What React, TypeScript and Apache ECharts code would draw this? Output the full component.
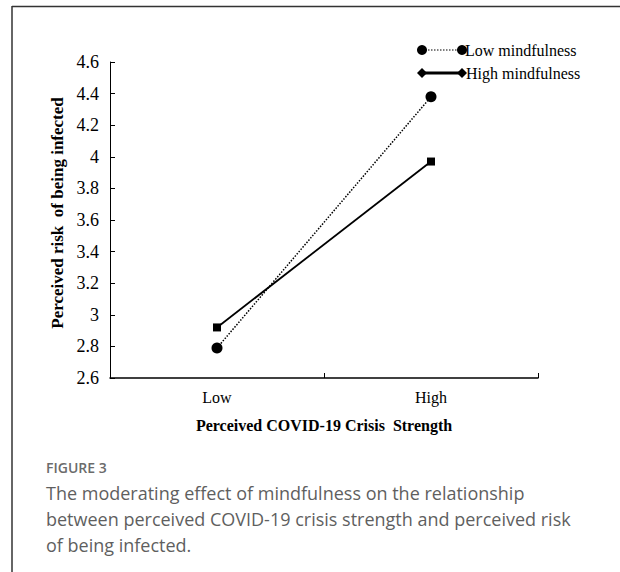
import React, { useEffect, useRef } from "react";
import * as echarts from "echarts";

const categories = ["Low", "High"];
const lowMindfulness = [2.79, 4.38];
const highMindfulness = [2.92, 3.97];
const yMin = 2.6;
const yMax = 4.6;
const yStep = 0.2;
const legendNames = ["Low mindfulness", "High mindfulness"];
const captionTitle = "FIGURE 3";
const captionLines = [
  "The moderating effect of mindfulness on the relationship",
  "between perceived COVID-19 crisis strength and perceived risk",
  "of being infected.",
];

const SERIF = "'Liberation Serif', 'Times New Roman', serif";
const SANS = "'Open Sans', 'Noto Sans', sans-serif";

export default function App() {
  const ref = useRef<HTMLDivElement>(null);
  useEffect(() => {
    if (!ref.current) return;
    const chart = echarts.init(ref.current, null, { renderer: "svg" });
    const legendY = [50, 73];
    chart.setOption({
      animation: false,
      backgroundColor: "#ffffff",
      grid: { left: 110, right: 82, top: 62, bottom: 194 },
      xAxis: {
        type: "category",
        data: categories,
        boundaryGap: true,
        name: "Perceived COVID-19 Crisis  Strength",
        nameLocation: "middle",
        nameGap: 39,
        nameTextStyle: { fontFamily: SERIF, fontWeight: "bold", fontSize: 16, color: "#000" },
        axisLine: { lineStyle: { color: "#000", width: 1.5 } },
        axisTick: { show: true, inside: true, length: 5, lineStyle: { color: "#000" } },
        axisLabel: { fontFamily: SERIF, fontSize: 16, color: "#000", margin: 11 },
        splitLine: { show: false },
      },
      yAxis: {
        type: "value",
        min: yMin,
        max: yMax,
        interval: yStep,
        name: "Perceived risk  of being infected",
        nameLocation: "middle",
        nameGap: 39,
        nameRotate: 90,
        nameTextStyle: {
          fontFamily: SERIF,
          fontWeight: "bold",
          fontSize: 17,
          color: "#000",
          padding: [0, 0, 0, 14],
        },
        axisLine: { show: true, lineStyle: { color: "#000", width: 1 } },
        axisTick: { show: true, inside: true, length: 5, lineStyle: { color: "#000" } },
        axisLabel: {
          fontFamily: SERIF,
          fontSize: 18,
          color: "#000",
          margin: 11,
          formatter: (v: number) => String(+v.toFixed(1)),
        },
        splitLine: { show: false },
      },
      series: [
        {
          name: legendNames[0],
          type: "line",
          data: lowMindfulness,
          symbol: "circle",
          symbolSize: 11,
          itemStyle: { color: "#000" },
          lineStyle: { color: "#000", width: 1.5, type: [1.5, 1.5] },
        },
        {
          name: legendNames[1],
          type: "line",
          data: highMindfulness,
          symbol: "rect",
          symbolSize: 8,
          itemStyle: { color: "#000" },
          lineStyle: { color: "#000", width: 1.8, type: "solid" },
        },
      ],
      graphic: [
        // frame
        { type: "line", shape: { x1: 12, y1: 6.5, x2: 620, y2: 6.5 }, style: { stroke: "#333", lineWidth: 1.5 } },
        { type: "line", shape: { x1: 12, y1: 6, x2: 12, y2: 572 }, style: { stroke: "#333", lineWidth: 1.5 } },
        // legend row 1
        { type: "line", shape: { x1: 422, y1: legendY[0], x2: 462, y2: legendY[0] }, style: { stroke: "#000", lineWidth: 1.2, lineDash: [1.5, 1.5] } },
        { type: "circle", shape: { cx: 422, cy: legendY[0], r: 5 }, style: { fill: "#000" } },
        { type: "circle", shape: { cx: 462, cy: legendY[0], r: 5 }, style: { fill: "#000" } },
        { type: "text", x: 465, y: legendY[0], style: { text: legendNames[0], font: `16px ${SERIF}`, fill: "#000", verticalAlign: "middle" } },
        // legend row 2
        { type: "line", shape: { x1: 422, y1: legendY[1], x2: 462, y2: legendY[1] }, style: { stroke: "#000", lineWidth: 3 } },
        { type: "polygon", shape: { points: [[422, legendY[1] - 5], [427, legendY[1]], [422, legendY[1] + 5], [417, legendY[1]]] }, style: { fill: "#000" } },
        { type: "polygon", shape: { points: [[462, legendY[1] - 5], [467, legendY[1]], [462, legendY[1] + 5], [457, legendY[1]]] }, style: { fill: "#000" } },
        { type: "text", x: 466, y: legendY[1], style: { text: legendNames[1], font: `16px ${SERIF}`, fill: "#000", verticalAlign: "middle" } },
        // caption
        { type: "text", x: 46, y: 467, style: { text: captionTitle, font: `600 14px ${SANS}`, fill: "#6b6b6b", verticalAlign: "middle" } },
        ...captionLines.map((t, i) => ({
          type: "text",
          x: 46,
          y: 493 + i * 26,
          style: { text: t, font: `18px ${SANS}`, fill: "#5f5f5f", verticalAlign: "middle" },
        })),
      ],
    });
    return () => chart.dispose();
  }, []);
  return (
    <div
      ref={ref}
      style={{ position: "fixed", left: 0, top: 0, width: 620, height: 572 }}
    />
  );
}
